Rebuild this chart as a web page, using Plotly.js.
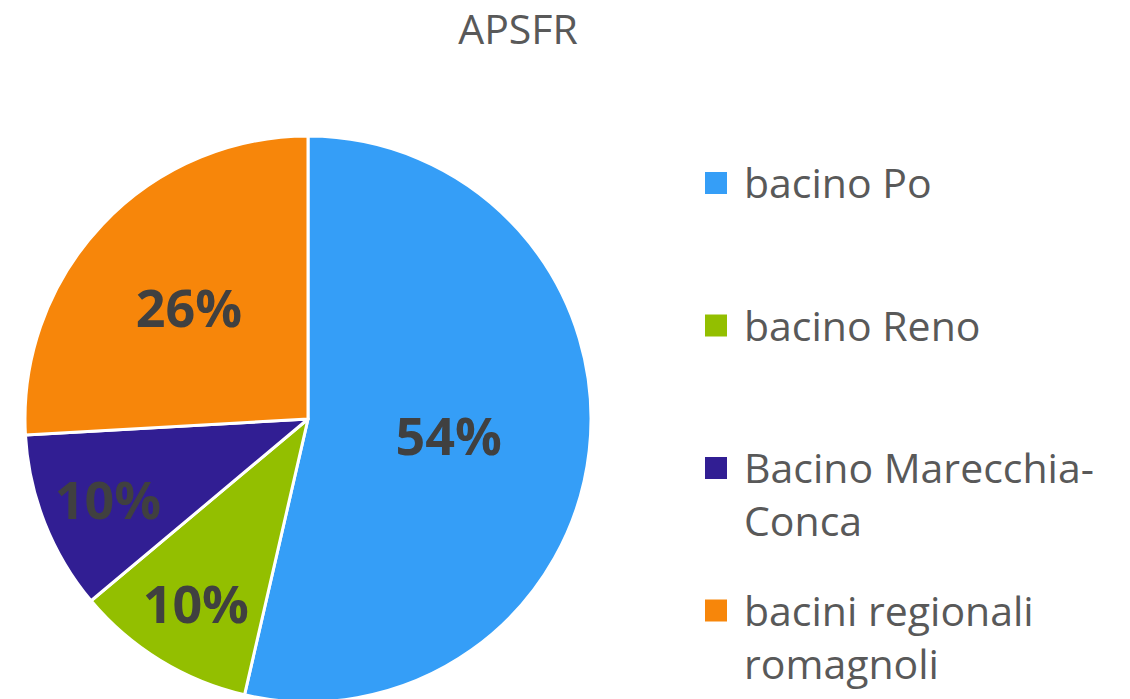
<!DOCTYPE html>
<html>
<head>
<meta charset="utf-8">
<script src="https://cdn.plot.ly/plotly-3.0.1.min.js"></script>
<style>
  html, body { margin: 0; padding: 0; overflow: hidden; background: #fff; }
  #chart { width: 1130px; height: 740px; }
</style>
</head>
<body>
<div id="chart"></div>
<script>
// Data
const chartTitle = 'APSFR';
const labels = ['bacino Po', 'bacino Reno', 'Bacino Marecchia-Conca', 'bacini regionali romagnoli'];
const legendLabels = ['bacino Po', 'bacino Reno', 'Bacino Marecchia-<br>Conca', 'bacini regionali<br>romagnoli'];
const values = [53.6, 10.3, 10.2, 25.9];
const colors = ['#359EF7', '#93BF00', '#311E93', '#F7860A'];

const W = 1130, H = 740;
const px = x => x / W;
const py = y => 1 - y / H;

const trace = {
  type: 'pie',
  labels: labels,
  values: values,
  sort: false,
  direction: 'clockwise',
  rotation: 0,
  marker: { colors: colors, line: { color: '#ffffff', width: 3 } },
  textinfo: 'percent',
  texttemplate: '%{percent:.0%}',
  textposition: 'inside',
  insidetextorientation: 'horizontal',
  textfont: { family: 'Open Sans', size: 52, weight: 700, color: '#404040' },
  domain: { x: [px(25), px(591)], y: [py(702), py(136)] },
  showlegend: false,
  hoverinfo: 'label+percent'
};

// Custom legend built from the label/colour arrays
const annotations = [];
const shapes = [];
const legFont = 41;
legendLabels.forEach((t, i) => {
  const cy = 183 + i * 142.5;
  shapes.push({
    type: 'rect', xref: 'paper', yref: 'paper',
    x0: px(705), x1: px(727), y0: py(cy - 11), y1: py(cy + 11),
    fillcolor: colors[i], line: { width: 0 }
  });
  annotations.push({
    xref: 'paper', yref: 'paper',
    x: px(742), y: py(cy - 0.65 * legFont * 1.07 - 2),
    xanchor: 'left', yanchor: 'top', align: 'left',
    showarrow: false, text: t,
    font: { family: 'Open Sans', size: legFont, color: '#595959' }
  });
});

const layout = {
  width: W, height: H,
  margin: { l: 0, r: 0, t: 0, b: 0 },
  paper_bgcolor: '#ffffff',
  title: {
    text: chartTitle,
    x: px(518), xref: 'paper', xanchor: 'center',
    y: py(30), yref: 'paper', yanchor: 'middle',
    font: { family: 'Open Sans', size: 41, color: '#595959' }
  },
  shapes: shapes,
  annotations: annotations,
  showlegend: false
};

Plotly.newPlot('chart', [trace], layout, { displayModeBar: false, staticPlot: false });
</script>
</body>
</html>
